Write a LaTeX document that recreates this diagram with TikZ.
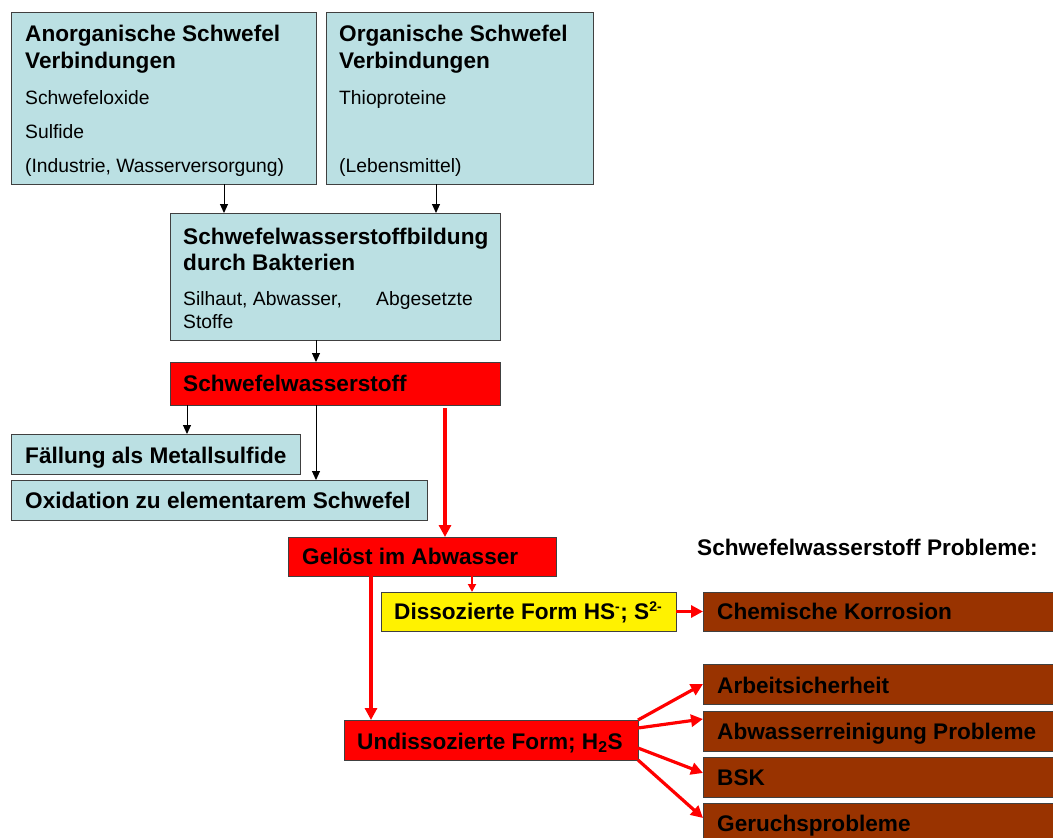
\documentclass[tikz,border=0pt]{standalone}
\usepackage{fontspec}
\setmainfont{Liberation Sans}
\usetikzlibrary{arrows.meta}
\definecolor{lblue}{RGB}{187,224,227}
\definecolor{brownbox}{RGB}{153,51,0}
\definecolor{edge}{RGB}{64,64,64}
\begin{document}
\begin{tikzpicture}[x=1pt,y=-1pt,
 box/.style={draw=edge,line width=1pt,anchor=north west,inner sep=0pt,outer sep=0pt},
 bluebox/.style={box,fill=lblue},
 redbox/.style={box,fill=red},
 yellowbox/.style={box,fill=yellow},
 brownbx/.style={box,fill=brownbox},
 hd/.style={anchor=base west,inner sep=0pt,font=\fontsize{22.6}{26}\selectfont\bfseries},
 tx/.style={anchor=base west,inner sep=0pt,font=\fontsize{19.3}{23}\selectfont},
 blk/.style={-{Triangle[length=9pt,width=8pt]},line width=1pt,black},
 rd/.style={-{Triangle[length=12pt,width=12pt]},line width=3.2pt,red},
 rdthin/.style={-{Triangle[length=8pt,width=8pt]},line width=1.8pt,red}]
\useasboundingbox (0,0) rectangle (1053,838);
\clip (0,0) rectangle (1053,838);
\fill[white] (0,0) rectangle (1053,838);

% boxes
\node[bluebox,minimum width=305pt,minimum height=172pt] (A) at (11,12) {};
\node[bluebox,minimum width=267pt,minimum height=172pt] (O) at (326,12) {};
\node[bluebox,minimum width=330pt,minimum height=127pt] (B) at (170,213) {};
\node[redbox,minimum width=330pt,minimum height=43pt] (SW) at (170,362) {};
\node[bluebox,minimum width=289pt,minimum height=40pt] (F) at (11,434) {};
\node[bluebox,minimum width=416pt,minimum height=40pt] (Ox) at (11,480) {};
\node[redbox,minimum width=268pt,minimum height=39pt] (G) at (288,537) {};
\node[yellowbox,minimum width=295pt,minimum height=39pt] (Y) at (381,592) {};
\node[redbox,minimum width=294pt,minimum height=40pt] (U) at (344,720) {};
\node[brownbx,minimum width=360pt,minimum height=39pt] (K) at (703,592) {};
\node[brownbx,minimum width=360pt,minimum height=40pt] (AS) at (703,664) {};
\node[brownbx,minimum width=360pt,minimum height=40pt] (AR) at (703,711) {};
\node[brownbx,minimum width=360pt,minimum height=40pt] (BSK) at (703,757) {};
\node[brownbx,minimum width=360pt,minimum height=45pt] (GP) at (703,803) {};

% texts
\node[hd] (tA1) at (25,41) {Anorganische Schwefel};
\node[hd] (tA2) at (25,68) {Verbindungen};
\node[tx] (tA3) at (25,104) {Schwefeloxide};
\node[tx] (tA4) at (25,138) {Sulfide};
\node[tx] (tA5) at (25,172) {(Industrie, Wasserversorgung)};
\node[hd] (tO1) at (339,41) {Organische Schwefel};
\node[hd] (tO2) at (339,68) {Verbindungen};
\node[tx] (tO3) at (339,104) {Thioproteine};
\node[tx] (tO4) at (339,172) {(Lebensmittel)};
\node[hd] (tB1) at (183,244) {Schwefelwasserstoffbildung};
\node[hd] (tB2) at (183,270) {durch Bakterien};
\node[tx] (tB3) at (183,305) {Silhaut, Abwasser,};
\node[tx] (tB4) at (376,305) {Abgesetzte};
\node[tx] (tB5) at (183,328) {Stoffe};
\node[hd] (tSW) at (183,391) {Schwefelwasserstoff};
\node[hd] (tF) at (25,463) {Fällung als Metallsulfide};
\node[hd] (tOx) at (25,508) {Oxidation zu elementarem Schwefel};
\node[hd] (tG) at (302,564) {Gelöst im Abwasser};
\node[hd] (tY) at (394,619) {Dissozierte Form HS\textsuperscript{\fontsize{14}{14}\selectfont -}; S\textsuperscript{\fontsize{14}{14}\selectfont 2-}};
\node[hd] (tU) at (357,749) {Undissozierte Form; H\textsubscript{2}S};
\node[hd] (tP) at (697,555) {Schwefelwasserstoff Probleme:};
\node[hd] (tK) at (717,619) {Chemische Korrosion};
\node[hd] (tAS) at (717,693) {Arbeitsicherheit};
\node[hd] (tAR) at (717,739) {Abwasserreinigung Probleme};
\node[hd] (tBSK) at (717,785) {BSK};
\node[hd] (tGP) at (717,831) {Geruchsprobleme};

% x positions for vertical connectors
\coordinate (x224) at (224,0);
\coordinate (x436) at (436,0);
\coordinate (x316) at (316,0);
\coordinate (x187) at (187,0);
\coordinate (x445) at (445,0);
\coordinate (x472) at (472,0);
\coordinate (x371) at (371,0);

% black connectors
\draw[blk] (A.south -| x224) -- (B.north -| x224);
\draw[blk] (O.south -| x436) -- (B.north -| x436);
\draw[blk] (B.south -| x316) -- (SW.north -| x316);
\draw[blk] (SW.south -| x187) -- (F.north -| x187);
\draw[blk] (SW.south -| x316) -- (Ox.north -| x316);

% red connectors
\draw[rd] ([yshift=-3pt]SW.south -| x445) -- (G.north -| x445);
\draw[rdthin] (G.south -| x472) -- (Y.north -| x472);
\draw[rd] (G.south -| x371) -- (U.north -| x371);
\draw[rd] (Y.east) -- (K.west);
\draw[rd] (U.north east) -- (AS.west);
\draw[rd] ([yshift=-8pt]U.north east) -- ([yshift=-8pt]AR.north west);
\draw[rd] ([yshift=-28pt]U.north east) -- ([yshift=-16pt]BSK.north west);
\draw[rd] (U.south east) -- ([yshift=-15pt]GP.north west);
\end{tikzpicture}
\end{document}
